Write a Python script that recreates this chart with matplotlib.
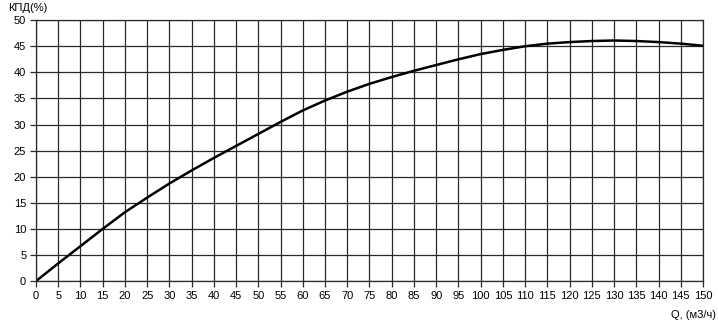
import numpy as np
import matplotlib.pyplot as plt

plt.rcParams['font.family'] = ['Liberation Sans', 'DejaVu Sans']

# КПД curve
q = [0, 5, 10, 15, 20, 25, 30, 35, 40, 45, 50, 55, 60, 65, 70, 75, 80, 85, 90, 95,
     100, 105, 110, 115, 120, 125, 130, 135, 140, 145, 150]
eff = [0, 3.4, 6.7, 10.0, 13.2, 16.0, 18.7, 21.2, 23.6, 25.9, 28.2, 30.5, 32.7, 34.6,
       36.3, 37.8, 39.1, 40.3, 41.4, 42.5, 43.5, 44.3, 45.0, 45.5, 45.8, 46.0, 46.1,
       46.0, 45.8, 45.5, 45.1]

xticks = np.arange(0, 151, 5)
yticks = np.arange(0, 51, 5)

fig = plt.figure(figsize=(7.18, 3.25), dpi=100)
ax = fig.add_axes([0.0501, 0.135, 0.929, 0.803])

ax.plot(q, eff, color='black', lw=1.8, solid_capstyle='round')

ax.set_xlim(0, 150)
ax.set_ylim(0, 50)
ax.set_xticks(xticks)
ax.set_yticks(yticks)
ax.grid(True, color='#2a2a2a', lw=0.9)
ax.tick_params(direction='out', length=4, width=0.9, color='#2a2a2a',
               labelsize=8, pad=3)
for s in ax.spines.values():
    s.set_color('#2a2a2a')
    s.set_linewidth(0.9)

fig.text(0.012, 0.99, 'КПД(%)', fontsize=8, va='top', ha='left')
fig.text(0.997, 0.015, 'Q, (м3/ч)', fontsize=8, va='bottom', ha='right')

fig.savefig('out.png', dpi=100)
